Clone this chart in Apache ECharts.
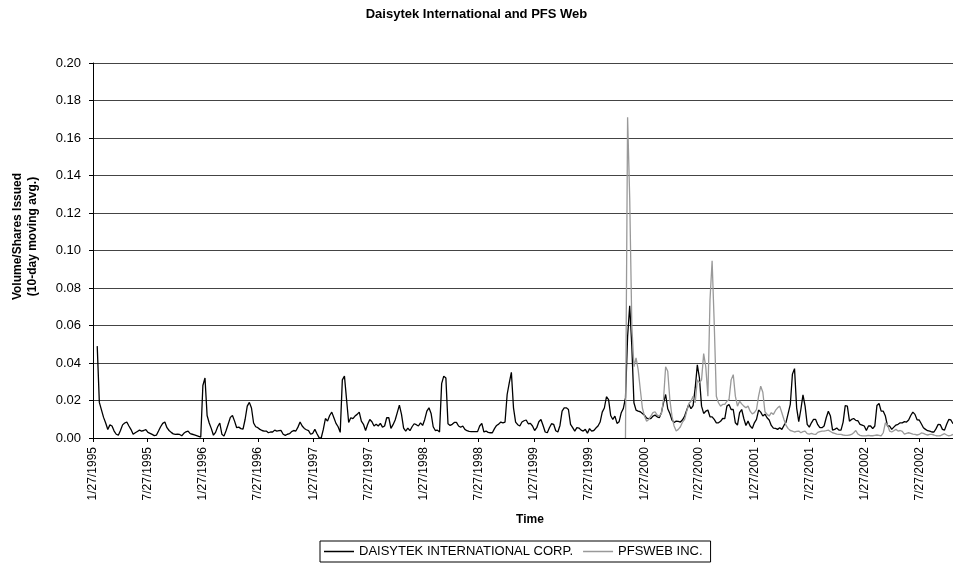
<!DOCTYPE html>
<html>
<head>
<meta charset="utf-8">
<title>Daisytek International and PFS Web</title>
<script src="https://cdn.jsdelivr.net/npm/echarts@6/dist/echarts.min.js"></script>
<style>
  html, body { margin: 0; padding: 0; background: #fff; }
  #main { width: 953px; height: 563px; }
</style>
</head>
<body>
<div id="main"></div>
<script>
// weekly samples, first week = 1/27/1995
const firstWeek = Date.UTC(1995, 0, 27);
const seriesNames = ['DAISYTEK INTERNATIONAL CORP.', 'PFSWEB INC.'];
const tickLabels = [
  '1/27/1995', '7/27/1995', '1/27/1996', '7/27/1996', '1/27/1997', '7/27/1997',
  '1/27/1998', '7/27/1998', '1/27/1999', '7/27/1999', '1/27/2000', '7/27/2000',
  '1/27/2001', '7/27/2001', '1/27/2002', '7/27/2002'
];

const daisytek = [
  null, null, 0.049, 0.019, 0.015, 0.011, 0.008, 0.0045, 0.007, 0.0064,
  0.0037, 0.002, 0.0015, 0.004, 0.007, 0.008, 0.0085, 0.0064, 0.0045, 0.002,
  0.0028, 0.0035, 0.0042, 0.0037, 0.004, 0.0045, 0.003, 0.0025, 0.0019, 0.0013,
  0.0015, 0.0037, 0.006, 0.0078, 0.0085, 0.0055, 0.004, 0.003, 0.0022, 0.0019,
  0.002, 0.0019, 0.0012, 0.0025, 0.0033, 0.0037, 0.0023, 0.002, 0.0017, 0.0013,
  0.0009, 0.0005, 0.028, 0.032, 0.012, 0.008, 0.005, 0.0015, 0.003, 0.006,
  0.008, 0.002, 0.001, 0.004, 0.0075, 0.011, 0.012, 0.009, 0.0055, 0.0058,
  0.005, 0.0047, 0.010, 0.017, 0.019, 0.016, 0.008, 0.006, 0.0055, 0.0046,
  0.004, 0.0037, 0.0037, 0.0028, 0.0032, 0.0032, 0.0042, 0.0037, 0.0039, 0.004,
  0.002, 0.0014, 0.002, 0.0023, 0.0034, 0.004, 0.0037, 0.0058, 0.0085, 0.0064,
  0.0051, 0.0044, 0.0039, 0.002, 0.0025, 0.0046, 0.0023, 0.0002, 0.0, 0.0046,
  0.0104, 0.009, 0.012, 0.0138, 0.0108, 0.0078, 0.006, 0.003, 0.031, 0.033,
  0.0205, 0.0083, 0.0108, 0.0103, 0.0117, 0.0126, 0.0138, 0.009, 0.0073, 0.004,
  0.0073, 0.0099, 0.0087, 0.0064, 0.0073, 0.0064, 0.0078, 0.0058, 0.0064, 0.0108,
  0.0108, 0.0051, 0.0071, 0.0096, 0.0135, 0.0175, 0.0126, 0.0053, 0.0037, 0.0053,
  0.0039, 0.006, 0.0076, 0.0071, 0.0064, 0.0081, 0.0067, 0.0099, 0.0143, 0.0161,
  0.0131, 0.006, 0.004, 0.0042, 0.0032, 0.029, 0.033, 0.032, 0.0076, 0.0067,
  0.0073, 0.0083, 0.0083, 0.0064, 0.0057, 0.0064, 0.0046, 0.0039, 0.0035, 0.0034,
  0.0034, 0.0034, 0.0034, 0.0064, 0.0078, 0.0032, 0.0037, 0.003, 0.0028, 0.0028,
  0.005, 0.0067, 0.0074, 0.0085, 0.0081, 0.0085, 0.0232, 0.0294, 0.035, 0.0161,
  0.0085, 0.0071, 0.0064, 0.0085, 0.0092, 0.0096, 0.0076, 0.0078, 0.0064, 0.004,
  0.0055, 0.0087, 0.0099, 0.0067, 0.0032, 0.0028, 0.0055, 0.0076, 0.0073, 0.0039,
  0.0032, 0.0067, 0.0143, 0.0161, 0.0161, 0.0152, 0.0073, 0.0055, 0.0037, 0.0055,
  0.0053, 0.0042, 0.0037, 0.0046, 0.0025, 0.005, 0.0037, 0.004, 0.0053, 0.0064,
  0.0085, 0.0138, 0.016, 0.022, 0.0205, 0.012, 0.0099, 0.0117, 0.0078, 0.0087,
  0.0135, 0.0158, 0.0214, 0.054, 0.0705, 0.049, 0.0188, 0.0149, 0.0143, 0.014,
  0.0131, 0.0122, 0.0106, 0.0103, 0.0103, 0.0117, 0.0122, 0.0113, 0.0108, 0.0135,
  0.0188, 0.0232, 0.0156, 0.0131, 0.0096, 0.0083, 0.009, 0.0089, 0.0085, 0.0097,
  0.0117, 0.0149, 0.018, 0.0156, 0.0173, 0.0267, 0.039, 0.032, 0.017, 0.0131,
  0.0143, 0.0149, 0.0113, 0.0113, 0.0099, 0.0081, 0.0081, 0.0089, 0.0104, 0.0103,
  0.017, 0.0179, 0.0152, 0.0152, 0.0081, 0.0069, 0.0135, 0.0152, 0.0104, 0.0067,
  0.009, 0.0064, 0.0051, 0.0081, 0.0099, 0.0149, 0.0138, 0.0117, 0.0127, 0.0108,
  0.0096, 0.0067, 0.0053, 0.0051, 0.0046, 0.0055, 0.0046, 0.0067, 0.0085, 0.0131,
  0.0179, 0.034, 0.037, 0.0161, 0.0087, 0.0152, 0.023, 0.017, 0.0073, 0.0058,
  0.0081, 0.0099, 0.0099, 0.0071, 0.0055, 0.0055, 0.0064, 0.0108, 0.0143, 0.0117,
  0.0042, 0.0046, 0.0053, 0.0042, 0.0042, 0.0085, 0.0173, 0.017, 0.009, 0.0099,
  0.0104, 0.0094, 0.0092, 0.0073, 0.0069, 0.0064, 0.004, 0.0064, 0.0064, 0.005,
  0.0064, 0.0173, 0.0184, 0.0143, 0.0143, 0.0117, 0.0064, 0.0064, 0.0046, 0.0058,
  0.0069, 0.0073, 0.0081, 0.0081, 0.0087, 0.0085, 0.0096, 0.012, 0.0138, 0.0126,
  0.0097, 0.0096, 0.0076, 0.0055, 0.0046, 0.0039, 0.0037, 0.0032, 0.0032, 0.005,
  0.0073, 0.0071, 0.0046, 0.0042, 0.0073, 0.0099, 0.0096, 0.0076
];

// PFSweb starts trading late 1999 (week index 252)
const pfsStartWeek = 252;
const pfsweb = [
  0, 0.171, 0.128, 0.06, 0.038, 0.0427, 0.0365, 0.026,
  0.016, 0.0117, 0.009, 0.0099, 0.0117, 0.0135, 0.014, 0.0122, 0.0117, 0.0129,
  0.0205, 0.038, 0.0356, 0.0205, 0.0117, 0.0064, 0.0037, 0.0046, 0.006, 0.0085,
  0.0099, 0.0143, 0.0184, 0.0196, 0.0223, 0.0188, 0.031, 0.0294, 0.031, 0.045,
  0.038, 0.0223, 0.0736, 0.0945, 0.061, 0.0223, 0.0188, 0.017, 0.0179, 0.0179,
  0.0196, 0.0205, 0.031, 0.0338, 0.0223, 0.017, 0.0196, 0.0182, 0.017, 0.0161,
  0.017, 0.0143, 0.0129, 0.0135, 0.0152, 0.0223, 0.0276, 0.0244, 0.014, 0.0126,
  0.0117, 0.0135, 0.0126, 0.0147, 0.0161, 0.017, 0.0135, 0.0099, 0.0067, 0.005,
  0.004, 0.0037, 0.0032, 0.0035, 0.0037, 0.0028, 0.0034, 0.0037, 0.0023, 0.0021,
  0.0025, 0.0021, 0.0019, 0.003, 0.0034, 0.0037, 0.0037, 0.0039, 0.0042, 0.0035,
  0.0028, 0.0025, 0.0021, 0.0019, 0.0019, 0.0016, 0.0014, 0.0014, 0.0016, 0.0019,
  0.0028, 0.004, 0.0021, 0.0014, 0.0012, 0.0011, 0.0012, 0.0014, 0.0012, 0.0012,
  0.0014, 0.0016, 0.0014, 0.0011, 0.0028, 0.0081, 0.0069, 0.0037, 0.0032, 0.0039,
  0.0046, 0.0037, 0.004, 0.0035, 0.0021, 0.0025, 0.0028, 0.0025, 0.0021, 0.0019,
  0.0016, 0.0019, 0.0027, 0.0025, 0.0019, 0.0016, 0.0019, 0.0019, 0.0016, 0.0012,
  0.0011, 0.0012, 0.0018, 0.0023, 0.0016, 0.0011, 0.0014, 0.0019
];

const DAY = 86400000;
const weekDates = daisytek.map((_, i) => firstWeek + i * 7 * DAY);
const parseLabel = (s) => {
  const [m, d, y] = s.split('/').map(Number);
  return Date.UTC(y, m - 1, d);
};
const tickValues = tickLabels.map(parseLabel);
const fmtDate = (v) => {
  const d = new Date(v);
  return (d.getUTCMonth() + 1) + '/' + d.getUTCDate() + '/' + d.getUTCFullYear();
};

const daisytekData = daisytek.map((v, i) => [weekDates[i], v]);
const pfswebData = pfsweb.map((v, i) => [weekDates[pfsStartWeek + i], v]);

const chart = echarts.init(document.getElementById('main'));
const option = {
  animation: false,
  backgroundColor: '#fff',
  textStyle: { fontFamily: 'Liberation Sans, Arial, sans-serif', color: '#000' },
  title: {
    text: 'Daisytek International and PFS Web',
    left: 'center',
    top: 3,
    textStyle: { fontSize: 13, fontWeight: 'bold', color: '#000' }
  },
  grid: { left: 93, right: 0, top: 63, bottom: 125, outerBoundsMode: 'none' },
  legend: {
    left: 320,
    top: 541,
    icon: 'rect',
    itemWidth: 30,
    itemHeight: 1.5,
    itemGap: 10,
    padding: [4, 8, 4, 4],
    borderColor: '#000',
    borderWidth: 1,
    textStyle: { fontSize: 13, color: '#000' },
    data: seriesNames
  },
  xAxis: {
    // dates as UTC timestamps on a plain value scale
    type: 'value',
    min: weekDates[0],
    max: weekDates[weekDates.length - 1],
    name: 'Time',
    nameLocation: 'middle',
    nameGap: 76,
    nameTextStyle: { fontSize: 12, fontWeight: 'bold', color: '#000', padding: [0, 0, 0, 14] },
    axisLine: { lineStyle: { color: '#000', width: 1 } },
    axisTick: { show: true, customValues: tickValues, length: 4, lineStyle: { color: '#000' } },
    axisLabel: {
      customValues: tickValues,
      rotate: 90,
      margin: 9,
      fontSize: 12,
      color: '#000',
      formatter: (v) => fmtDate(v)
    },
    splitLine: { show: false }
  },
  yAxis: {
    type: 'value',
    min: 0,
    max: 0.2,
    interval: 0.02,
    name: 'Volume/Shares Issued\n(10-day moving avg.)',
    nameLocation: 'middle',
    nameRotate: 90,
    nameGap: 53,
    nameTextStyle: { fontSize: 12, fontWeight: 'bold', color: '#000', lineHeight: 15, padding: [0, 0, 0, 28] },
    axisLine: { show: true, lineStyle: { color: '#000', width: 1 } },
    axisTick: { show: true, length: 4, lineStyle: { color: '#000' } },
    axisLabel: { fontSize: 13, color: '#000', margin: 12, formatter: (v) => v.toFixed(2) },
    splitLine: { show: true, lineStyle: { color: '#444', width: 1 } }
  },
  series: [
    {
      name: seriesNames[0],
      type: 'line',
      data: daisytekData,
      symbol: 'none',
      showSymbol: false,
      lineStyle: { color: '#000', width: 1.3 },
      itemStyle: { color: '#000' }
    },
    {
      name: seriesNames[1],
      type: 'line',
      data: pfswebData,
      symbol: 'none',
      showSymbol: false,
      lineStyle: { color: '#999', width: 1.3 },
      itemStyle: { color: '#999' }
    }
  ]
};
chart.setOption(option);
</script>
</body>
</html>
